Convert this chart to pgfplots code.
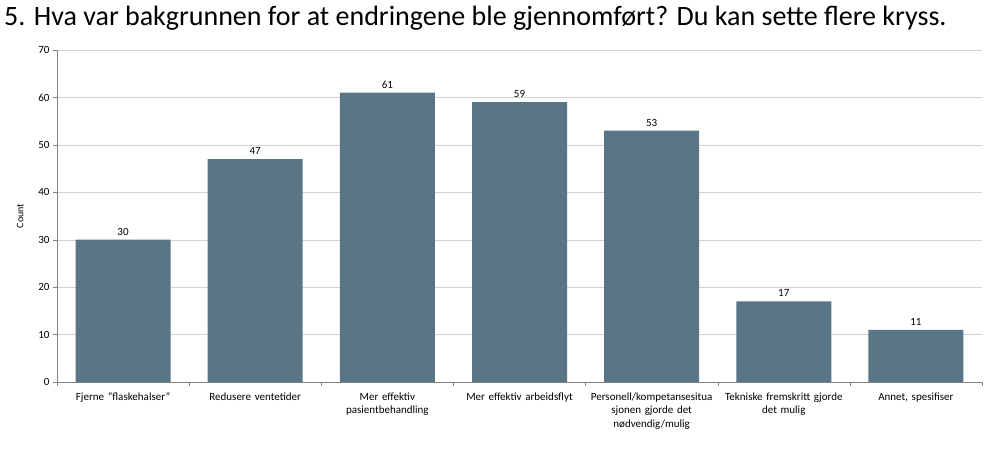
\documentclass[border=0pt]{standalone}
\usepackage{pgfplots}
\pgfplotsset{compat=1.18}
\usepackage{fontspec}
\setmainfont{Carlito}
\definecolor{barc}{RGB}{90,117,134}
\definecolor{gridc}{RGB}{210,210,210}
\definecolor{axc}{RGB}{130,130,130}
\begin{document}
\begin{tikzpicture}[x=1pt,y=1pt]
\path[use as bounding box] (0,0) rectangle (1007,463);
\node[anchor=base west,font=\fontsize{28}{32}\selectfont,inner sep=0pt] at (4,437) {5. Hva var bakgrunnen for at endringene ble gjennomført? Du kan sette flere kryss.};
\begin{axis}[
  at={(57pt,81pt)}, anchor=south west,
  width=925pt, height=332pt, scale only axis,
  ymin=0, ymax=70, ytick={0,10,...,70},
  xmin=-0.5, xmax=6.5,
  xtick={0,...,6},
  xticklabels={{Fjerne "flaskehalser"},{Redusere ventetider},{Mer effektiv\\pasientbehandling},{Mer effektiv arbeidsflyt},{Personell/kompetansesitua\\sjonen gjorde det\\nødvendig/mulig},{Tekniske fremskritt gjorde\\det mulig},{Annet, spesifiser}},
  xticklabel style={align=center, text width=130pt, font=\fontsize{11}{13.5}\selectfont, yshift=-3pt},
  minor xtick={-0.5,0.5,...,6.5},
  major x tick style={draw=none},
  minor x tick style={draw=axc},
  minor tick length=4pt,
  x tick style={draw=none},
  ymajorgrids, grid style={draw=gridc},
  axis x line*=bottom, axis y line*=left,
  axis line style={draw=axc, -},
  y tick style={draw=axc},
  major tick length=4pt,
  tick align=outside,
  yticklabel style={font=\fontsize{11}{13}\selectfont},
  /pgf/number format/assume math mode=true,
  ylabel={Count}, ylabel style={font=\fontsize{10}{12}\selectfont},
  every axis y label/.style={at={(axis description cs:0,0.5)}, anchor=south, rotate=90, xshift=0pt, yshift=30pt},
  ybar, bar width=95pt,
  nodes near coords,
  nodes near coords style={font=\fontsize{11}{13}\selectfont, yshift=1pt},
  clip=false,
]
\addplot[fill=barc, draw=none] coordinates {(0,30) (1,47) (2,61) (3,59) (4,53) (5,17) (6,11)};
\end{axis}
\end{tikzpicture}
\end{document}
